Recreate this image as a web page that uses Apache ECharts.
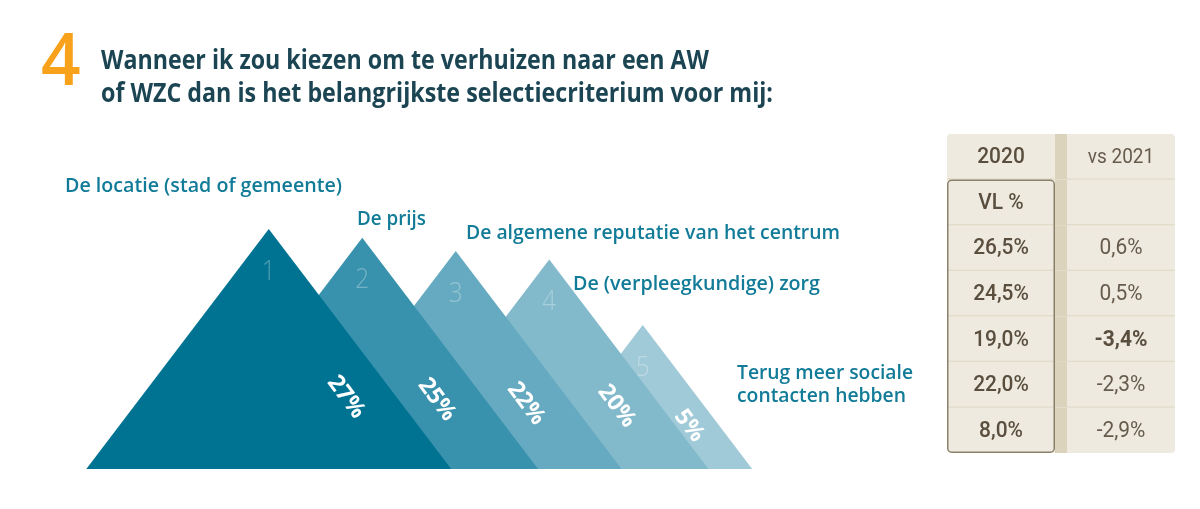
<!DOCTYPE html>
<html><head><meta charset="utf-8">
<script src="https://cdn.jsdelivr.net/npm/echarts@6/dist/echarts.min.js"></script>
<style>html,body{margin:0;padding:0;background:#fff;}#chart{width:1200px;height:509px;}</style>
</head><body><div id="chart"></div>
<script>
// ---- data ----
const titleNumber = '4';
const titleLines = ['Wanneer ik zou kiezen om te verhuizen naar een AW', 'of WZC dan is het belangrijkste selectiecriterium voor mij:'];
const criteria = ['De locatie (stad of gemeente)', 'De prijs', 'De algemene reputatie van het centrum', 'De (verpleegkundige) zorg', 'Terug meer sociale\ncontacten hebben'];
const ranks = ['1', '2', '3', '4', '5'];
const shares = [27, 25, 22, 20, 5];
const tableHeader = ['2020', 'vs 2021'];
const tableSubHeader = ['VL %', ''];
const vl2020 = [26.5, 24.5, 19.0, 22.0, 8.0];
const vs2021 = [0.6, 0.5, -3.4, -2.3, -2.9];

// ---- style ----
const mountainColors = ['#007393', '#3892AD', '#65AAC0', '#82BACC', '#A0CAD8'];
const TEAL = '#117B98', DARK = '#1C4554', ORANGE = '#F8A21C', BROWN = '#5A4E3E';
const SLOPE = 1.315;
const Y_MIN = -28, Y_MAX = 30;

const mctx = document.createElement('canvas').getContext('2d');
function fit(text, font, target) { mctx.font = font; return target / mctx.measureText(text).width; }
function txt(o) {
  const s = o.style;
  s.align = s.textAlign; s.verticalAlign = s.textVerticalAlign;
  return o;
}

// ---- graphic texts (layout) ----
const graphics = [];
graphics.push(txt({type: 'text', x: 41, y: 101, scaleX: 0.95, style: {text: titleNumber, fill: ORANGE, fontSize: 73, fontFamily: 'Open Sans', fontWeight: 600, textAlign: 'left', textVerticalAlign: 'bottom'}}));
const titleLayout = [{x: 101, y: 61.5, w: 608}, {x: 101, y: 94.5, w: 672}];
titleLines.forEach((t, i) => {
  const f = 'bold 26px "Open Sans"';
  graphics.push(txt({type: 'text', x: titleLayout[i].x, y: titleLayout[i].y, scaleX: fit(t, f, titleLayout[i].w),
    style: {text: t, fill: DARK, fontSize: 26, fontFamily: 'Open Sans', fontWeight: 'bold', textAlign: 'left', textVerticalAlign: 'middle'}}));
});
const labelLayout = [
  [{x: 65, y: 186.5, w: 277}],
  [{x: 357, y: 219.5, w: 69}],
  [{x: 466, y: 233.5, w: 374}],
  [{x: 573, y: 284.5, w: 247}],
  [{x: 737, y: 373.5, w: 176}, {x: 737, y: 396.5, w: 169}]
];
criteria.forEach((c, i) => {
  c.split('\n').forEach((line, j) => {
    const L = labelLayout[i][j];
    const f = '600 20px "Open Sans"';
    graphics.push(txt({type: 'text', x: L.x, y: L.y, scaleX: fit(line, f, L.w),
      style: {text: line, fill: TEAL, fontSize: 20, fontFamily: 'Open Sans', fontWeight: 600, textAlign: 'left', textVerticalAlign: 'middle'}}));
  });
});

// ---- mountains ----
function renderMountain(params, api) {
  const i = params.dataIndex;
  const peak = api.coord([api.value(0), api.value(1)]);
  const base = params.coordSys.y + params.coordSys.height;
  const h = base - peak[1];
  const hw = h / SLOPE;
  const ly = base - 0.3 * h;
  const lx = peak[0] + (ly - peak[1]) / SLOPE - 0.21 * h;
  const z = (shares.length - i) * 10;
  return {type: 'group', children: [
    {type: 'polygon', z2: z, shape: {points: [[peak[0] - hw, base], [peak[0], peak[1]], [peak[0] + hw, base]]}, style: {fill: mountainColors[i]}},
    txt({type: 'text', z2: z + 1, x: peak[0], y: peak[1] + 43, scaleX: 0.9, style: {text: ranks[i], fill: 'rgba(255,255,255,0.3)', fontSize: 27, fontFamily: 'Open Sans', fontWeight: 300, textAlign: 'center', textVerticalAlign: 'middle'}}),
    txt({type: 'text', z2: z + 2, x: lx, y: ly, rotation: -53 * Math.PI / 180,
      style: {text: api.value(1) + '%', fill: '#FFFFFF', fontSize: 23, fontFamily: 'Open Sans', fontWeight: 'bold', textAlign: 'center', textVerticalAlign: 'middle'}})
  ]};
}

// ---- table ----
const fmt = v => v.toFixed(1).replace('.', ',') + '%';
const minDelta = Math.min(...vs2021);
const rowNames = ['h', 's'].concat(vl2020.map((_, i) => 'r' + i));
const nRows = rowNames.length;
const tableData = [];
tableHeader.forEach((t, j) => tableData.push([j, 0, t, 'head']));
tableSubHeader.forEach((t, j) => tableData.push([j, 1, t, 'sub']));
vl2020.forEach((v, i) => tableData.push([0, i + 2, fmt(v), 'val']));
vs2021.forEach((v, i) => tableData.push([1, i + 2, fmt(v), v === minDelta ? 'bold' : 'delta']));

function renderCell(params, api) {
  const col = api.value(0), row = api.value(1);
  const item = tableData[params.dataIndex];
  const c = api.coord([col, row]);
  const s = api.size([1, 1]);
  const x0 = c[0] - s[0] / 2, y0 = c[1] - s[1] / 2, w = s[0], h = s[1];
  const g = 6;
  const cx0 = col === 0 ? x0 : x0 + g, cw = w - g;
  let r = [0, 0, 0, 0];
  if (row === 0) r = col === 0 ? [4, 0, 0, 0] : [0, 4, 0, 0];
  if (row === nRows - 1) r = col === 0 ? [0, 0, 0, 4] : [0, 0, 4, 0];
  const children = [
    {type: 'rect', shape: col === 0 ? {x: x0 + w - g, y: y0, width: g, height: h} : {x: x0, y: y0, width: g, height: h}, style: {fill: '#DCD3BD'}},
    {type: 'rect', shape: {x: cx0, y: y0, width: cw, height: h, r: r}, style: {fill: '#EEEADF'}}
  ];
  if (row < nRows - 1) children.push({type: 'rect', shape: {x: cx0, y: y0 + h - 1, width: cw, height: 2}, style: {fill: '#DED7C4'}});
  if (col === 0 && row === 1) {
    children.push({type: 'rect', z2: 20, shape: {x: cx0 + 0.75, y: y0 + 0.75, width: cw - 1.5, height: h * (nRows - 1) - 1.5, r: 4}, style: {fill: 'none', stroke: '#8A806B', lineWidth: 1.5}});
  }
  const kind = item[3];
  const st = {text: item[2], fill: BROWN, fontSize: 22, fontFamily: 'Roboto', fontWeight: 500, textAlign: 'center', textVerticalAlign: 'middle'};
  if (kind === 'delta') { st.fontWeight = 400; st.fill = '#665B4C'; }
  if (kind === 'bold') { st.fontWeight = 'bold'; }
  if (kind === 'head' && col === 1) { st.fontWeight = 400; st.fontSize = 20; st.fill = '#665B4C'; }
  children.push(txt({type: 'text', z2: 30, x: c[0] + (col === 0 ? -g / 2 : g / 2), y: c[1] + 1, scaleX: 0.95, style: st}));
  return {type: 'group', children: children};
}

const chart = echarts.init(document.getElementById('chart'), null, {renderer: 'canvas'});
chart.setOption({
  backgroundColor: '#FFFFFF',
  animation: false,
  grid: [
    {left: 222, width: 467.5, top: 216, bottom: 40},
    {left: 947, width: 228, top: 134, height: 319}
  ],
  xAxis: [
    {type: 'category', gridIndex: 0, data: criteria, show: false},
    {type: 'category', gridIndex: 1, data: tableHeader, show: false}
  ],
  yAxis: [
    {type: 'value', gridIndex: 0, min: Y_MIN, max: Y_MAX, show: false},
    {type: 'category', gridIndex: 1, data: rowNames, inverse: true, show: false}
  ],
  series: [
    {type: 'custom', xAxisIndex: 0, yAxisIndex: 0, renderItem: renderMountain, data: shares.map((v, i) => [i, v]), silent: true},
    {type: 'custom', xAxisIndex: 1, yAxisIndex: 1, renderItem: renderCell, data: tableData.map(d => [d[0], d[1]]), silent: true}
  ],
  graphic: graphics
});
</script></body></html>
